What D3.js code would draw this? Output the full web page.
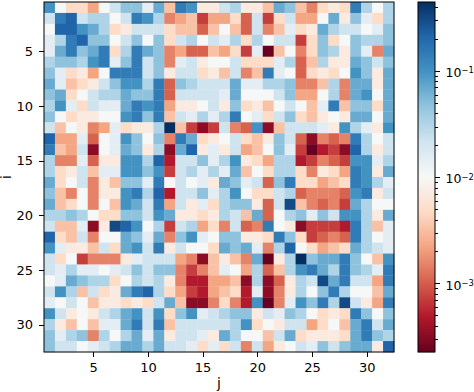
<!DOCTYPE html>
<meta charset="utf-8">
<style>
    html, body { margin: 0; padding: 0; background: #fff; }
    svg { display: block; }
    text { font-family: "DejaVu Sans", sans-serif; fill: #000; }
    .tick line { stroke: #000; stroke-width: 1px; shape-rendering: crispEdges; }
    .tick text { font-size: 13px; }
    .axis path.domain { display: none; }
</style>

<body>
    <script src="https://d3js.org/d3.v7.min.js"></script>
    <script>
        var width = 474,
            height = 392;

        var indices = d3.range(1, 33);
        var iTicks = [5, 10, 15, 20, 25, 30];
        var jTicks = [5, 10, 15, 20, 25, 30];
        var cbarMajor = [1e-1, 1e-2, 1e-3];
        var cbarMajorExp = ["\u22121", "\u22122", "\u22123"];
        var cbarMinor = [4e-1, 3e-1, 2e-1, 9e-2, 8e-2, 7e-2, 6e-2, 5e-2, 4e-2, 3e-2, 2e-2,
            9e-3, 8e-3, 7e-3, 6e-3, 5e-3, 4e-3, 3e-3, 2e-3,
            9e-4, 8e-4, 7e-4, 6e-4, 5e-4, 4e-4, 3e-4];
        var vmin = 2.265e-4,
            vmax = 0.4457;

        // RdBu, same stops as matplotlib
        var rdbu = ["#67001f", "#b2182b", "#d6604d", "#f4a582", "#fddbc7", "#f7f7f7",
            "#d1e5f0", "#92c5de", "#4393c3", "#2166ac", "#053061"];

        // rows are i = 1..32, columns j = 1..32
        var matrix = [
            [.1,.0102,.0048,.0048,.0022,.0102,.022,.047,.047,.015,.068,.0033,.146,.1,.007,.007,.022,.032,.007,.007,.0033,.068,.047,.0033,.0015,.0048,.007,.0048,.146,.032,.0102,.032],
            [.022,.146,.214,.022,.032,.032,.0102,.022,.146,.1,.032,.0015,.0022,.0033,.00072,.0022,.0022,.0048,.00105,.022,.00072,.0048,.022,.0022,.0022,.0102,.068,.007,.047,.015,.0048,.032],
            [.0102,.214,.214,.1,.068,.032,.0048,.007,.022,.022,.022,.0048,.0033,.0033,.00105,.0033,.0102,.0033,.00105,.022,.0015,.0033,.015,.0048,.007,.068,.032,.022,.022,.0102,.015,.047],
            [.015,.032,.146,.214,.047,.047,.0102,.022,.047,.0102,.047,.0048,.022,.032,.0102,.022,.015,.032,.0048,.032,.0102,.022,.022,.00072,.0048,.047,.0048,.0102,.047,.032,.032,.047],
            [.015,.068,.146,.047,.068,.146,.0048,.032,.146,.068,.047,.0015,.0022,.00105,.00105,.0033,.0022,.0048,.00072,.015,.00023,.0033,.0102,.0015,.0048,.047,.032,.007,.047,.015,.0015,.068],
            [.032,.047,.047,.032,.1,.146,.015,.047,.146,.022,.047,.0015,.015,.022,.007,.0102,.0102,.022,.0048,.0048,.0048,.015,.032,.00105,.0033,.032,.007,.007,.068,.047,.022,.047],
            [.047,.015,.0048,.007,.0022,.0102,.146,.146,.146,.022,.047,.007,.022,.022,.0048,.007,.0033,.022,.0015,.0033,.146,.015,.0102,.00105,.0048,.007,.0048,.0102,.1,.047,.007,.068],
            [.068,.015,.0033,.0048,.007,.022,.047,.1,.1,.032,.146,.00105,.047,.032,.022,.022,.022,.068,.015,.015,.032,.032,.047,.0015,.0015,.0033,.032,.0015,.068,.068,.007,.068],
            [.047,.068,.0048,.0102,.022,.032,.032,.068,.047,.047,.146,.00105,.022,.022,.022,.022,.015,.068,.0102,.0102,.0102,.022,.047,.0022,.0022,.0102,.032,.0015,.068,.1,.0102,.068],
            [.032,.1,.015,.0048,.022,.015,.015,.068,.146,.1,.146,.0022,.007,.007,.0102,.022,.007,.047,.0048,.007,.0033,.0102,.022,.0102,.0033,.015,.146,.0033,.047,.047,.0048,.068],
            [.047,.0102,.0048,.007,.007,.0102,.0102,.1,.146,.047,.146,.0033,.022,.015,.032,.015,.032,.146,.0102,.015,.0048,.022,.047,.0048,.0033,.007,.0102,.007,.068,.068,.0102,.068],
            [.022,.0033,.0102,.007,.0015,.0022,.015,.0048,.007,.007,.032,.457,.0033,.00072,.00033,.00072,.022,.0015,.00105,.1,.00033,.0033,.022,.022,.022,.015,.007,.1,.032,.015,.007,.1],
            [.214,.0022,.0022,.015,.00105,.0102,.015,.1,.047,.0102,.047,.0015,.146,.068,.0048,.007,.0102,.022,.0048,.0033,.007,.047,.022,.00105,.00033,.0015,.00105,.0015,.146,.032,.0102,.022],
            [.146,.0033,.0022,.022,.00033,.0102,.015,.068,.047,.007,.032,.00033,.068,.214,.007,.015,.007,.022,.0022,.0033,.0102,.047,.015,.00072,.00023,.00049,.00072,.00033,.214,.032,.007,.022],
            [.032,.0015,.0015,.015,.00105,.007,.007,.1,.1,.032,.214,.00049,.022,.022,.047,.015,.032,.1,.007,.0048,.0022,.032,.032,.00049,.00072,.0015,.00105,.00072,.1,.1,.015,.032],
            [.032,.0048,.007,.022,.0033,.015,.015,.1,.1,.047,.1,.00072,.022,.032,.015,.032,.015,.068,.0033,.0102,.0048,.032,.032,.0048,.0015,.007,.0048,.0022,.146,.1,.007,.068],
            [.068,.0048,.0102,.022,.0015,.007,.0033,.047,.047,.015,.146,.0102,.022,.0102,.015,.007,.068,.047,.015,.022,.00105,.047,.146,.0048,.0048,.0022,.0033,.0048,.146,.1,.032,.015],
            [.047,.0033,.0015,.0102,.0015,.007,.007,.1,.146,.032,.214,.00049,.022,.022,.047,.015,.032,.1,.0102,.0048,.0048,.022,.032,.00105,.0015,.0015,.0015,.00105,.1,.146,.007,.022],
            [.068,.0033,.0048,.0102,.0015,.0102,.0033,.1,.068,.022,.146,.0022,.022,.007,.015,.0048,.032,.047,.047,.007,.00105,.022,.31,.0033,.0015,.00105,.0015,.00072,.068,.032,.0102,.0102],
            [.032,.032,.047,.032,.0102,.0048,.0048,.047,.047,.022,.1,.068,.007,.007,.0048,.007,.032,.022,.0033,.068,.00105,.0102,.032,.047,.015,.047,.022,.1,.1,.032,.007,.068],
            [.022,.0033,.0033,.015,.00033,.007,.31,.214,.1,.0102,.032,.00072,.022,.032,.0022,.0048,.0015,.022,.00105,.0015,.146,.0102,.007,.00033,.00072,.00072,.00072,.00049,.146,.032,.0033,.015],
            [.214,.0048,.0033,.022,.0015,.0102,.0102,.068,.047,.015,.068,.0015,.047,.1,.015,.0102,.047,.047,.007,.007,.0048,.146,.047,.0048,.00072,.00105,.0015,.00105,.146,.032,.0102,.015],
            [.1,.015,.007,.007,.0033,.022,.0048,.068,.1,.022,.146,.007,.022,.0102,.0102,.0048,.068,.047,.068,.015,.0015,.032,.214,.0102,.0048,.0022,.0033,.0048,.068,.032,.022,.015],
            [.022,.0048,.0102,.00072,.0015,.0015,.0015,.007,.015,.022,.022,.022,.0022,.0015,.00033,.0033,.007,.0033,.0015,.068,.00023,.007,.032,.457,.047,.068,.068,.146,.047,.0102,.0033,.1],
            [.022,.015,.032,.015,.015,.0102,.015,.022,.047,.022,.047,.047,.0015,.00072,.0015,.0033,.015,.0102,.0022,.032,.00105,.0033,.032,.1,.146,.068,.032,.146,.047,.032,.015,.146],
            [.0102,.015,.068,.047,.032,.032,.0048,.0102,.032,.022,.032,.007,.0015,.00049,.00049,.0022,.0022,.0033,.00033,.032,.00033,.00105,.007,.032,.022,.31,.068,.146,.022,.022,.0022,.146],
            [.022,.1,.032,.0033,.022,.0048,.007,.068,.146,.214,.032,.0048,.0022,.00072,.00049,.0022,.0033,.0048,.00049,.015,.00033,.0015,.007,.032,.0102,.047,.146,.032,.0102,.0102,.0033,.068],
            [.015,.0102,.022,.0102,.0033,.007,.007,.0048,.007,.0048,.022,.068,.0033,.00033,.00033,.0015,.0048,.0015,.00049,.1,.00023,.0015,.015,.1,.047,.146,.032,.31,.022,.007,.0022,.146],
            [.1,.022,.007,.0102,.007,.022,.032,.068,.1,.022,.1,.0048,.047,.1,.015,.022,.032,.047,.047,.007,.022,.015,.047,.032,.0102,.0048,.007,.0048,.146,.047,.0102,.047],
            [.032,.007,.0033,.0102,.0033,.015,.015,.068,.146,.022,.146,.0033,.022,.022,.022,.022,.022,.032,.1,.0048,.0102,.007,.022,.022,.0022,.0048,.0102,.0033,.068,.146,.022,.068],
            [.047,.015,.032,.047,.0015,.032,.0102,.032,.068,.015,.068,.007,.022,.022,.015,.007,.068,.032,.0102,.0102,.0033,.022,.068,.0048,.007,.007,.007,.0048,.068,.146,.047,.032],
            [.047,.022,.022,.0102,.015,.022,.032,.068,.068,.032,.068,.022,.022,.015,.0048,.015,.0048,.022,.0015,.022,.0022,.007,.0102,.022,.015,.047,.022,.047,.068,.068,.007,.214]
        ];

        var margin = { top: 2, left: 44, bottom: 40, right: 80 };
        var plotRight = 394,
            plotBottom = height - margin.bottom,
            cbarLeft = 418,
            cbarRight = 435;

        var svg = d3.select("body").append("svg")
            .attr("width", width)
            .attr("height", height);

        var x = d3.scaleBand().domain(indices).range([margin.left, plotRight]);
        var y = d3.scaleBand().domain(indices).range([margin.top, plotBottom]);

        var t = d3.scaleLog().domain([vmin, vmax]).range([0, 1]);
        var ramp = d3.scaleLinear()
            .domain(rdbu.map(function(d, k) { return k / (rdbu.length - 1); }))
            .range(rdbu)
            .interpolate(d3.interpolateRgb);
        var color = function(v) { return ramp(t(v)); };

        var cells = [];
        matrix.forEach(function(row, r) {
            row.forEach(function(v, c) {
                cells.push({ i: indices[r], j: indices[c], v: v });
            });
        });

        svg.append("g").selectAll("rect")
            .data(cells)
            .enter().append("rect")
            .attr("x", function(d) { return x(d.j); })
            .attr("y", function(d) { return y(d.i); })
            .attr("width", x.bandwidth() + 0.3)
            .attr("height", y.bandwidth() + 0.3)
            .attr("fill", function(d) { return color(d.v); });

        // tick positions are cell centres
        var xc = d3.scalePoint().domain(indices).range([x(1) + x.bandwidth() / 2, x(32) + x.bandwidth() / 2]);
        var yc = d3.scalePoint().domain(indices).range([y(1) + y.bandwidth() / 2, y(32) + y.bandwidth() / 2]);

        svg.append("g")
            .attr("class", "axis")
            .attr("transform", "translate(0," + plotBottom + ")")
            .call(d3.axisBottom(xc).tickValues(jTicks).tickSize(5).tickPadding(6));

        svg.append("g")
            .attr("class", "axis")
            .attr("transform", "translate(" + margin.left + ",0)")
            .call(d3.axisLeft(yc).tickValues(iTicks).tickSize(5).tickPadding(6));

        svg.append("rect")
            .attr("x", margin.left)
            .attr("y", margin.top)
            .attr("width", plotRight - margin.left)
            .attr("height", plotBottom - margin.top)
            .attr("fill", "none")
            .attr("stroke", "#000")
            .attr("stroke-width", 1);

        svg.append("text")
            .attr("x", (margin.left + plotRight) / 2)
            .attr("y", 388)
            .attr("text-anchor", "middle")
            .style("font-size", "14px")
            .text("j");

        svg.append("text")
            .attr("transform", "translate(11," + (margin.top + plotBottom) / 2 + ") rotate(-90)")
            .attr("text-anchor", "middle")
            .style("font-size", "14px")
            .text("i");

        // colorbar
        var cy = d3.scaleLog().domain([vmax, vmin]).range([margin.top, plotBottom]);
        var cbarSteps = d3.range(0, 350);
        var stepValue = function(k) { return cy.invert(margin.top + k + 0.5); };

        svg.append("g").selectAll("rect")
            .data(cbarSteps)
            .enter().append("rect")
            .attr("x", cbarLeft)
            .attr("y", function(k) { return margin.top + k; })
            .attr("width", cbarRight - cbarLeft)
            .attr("height", 1.2)
            .attr("fill", function(k) { return color(stepValue(k)); });

        svg.append("rect")
            .attr("x", cbarLeft)
            .attr("y", margin.top)
            .attr("width", cbarRight - cbarLeft)
            .attr("height", plotBottom - margin.top)
            .attr("fill", "none")
            .attr("stroke", "#000")
            .attr("stroke-width", 1);

        svg.append("g")
            .attr("class", "axis")
            .attr("transform", "translate(" + cbarRight + ",0)")
            .call(d3.axisRight(cy).tickValues(cbarMinor).tickSize(3).tickFormat(""));

        var major = svg.append("g")
            .attr("class", "axis")
            .attr("transform", "translate(" + cbarRight + ",0)")
            .call(d3.axisRight(cy).tickValues(cbarMajor).tickSize(5).tickFormat(""));

        var label = major.selectAll(".tick").select("text")
            .attr("x", 10.5)
            .attr("dy", "0.46em")
            .style("font-size", "12.5px");
        label.append("tspan").text("10");
        label.append("tspan")
            .attr("dy", "-3.8px")
            .style("font-size", "8.4px")
            .text(function(d, k) { return cbarMajorExp[k]; });
    </script>
</body>
